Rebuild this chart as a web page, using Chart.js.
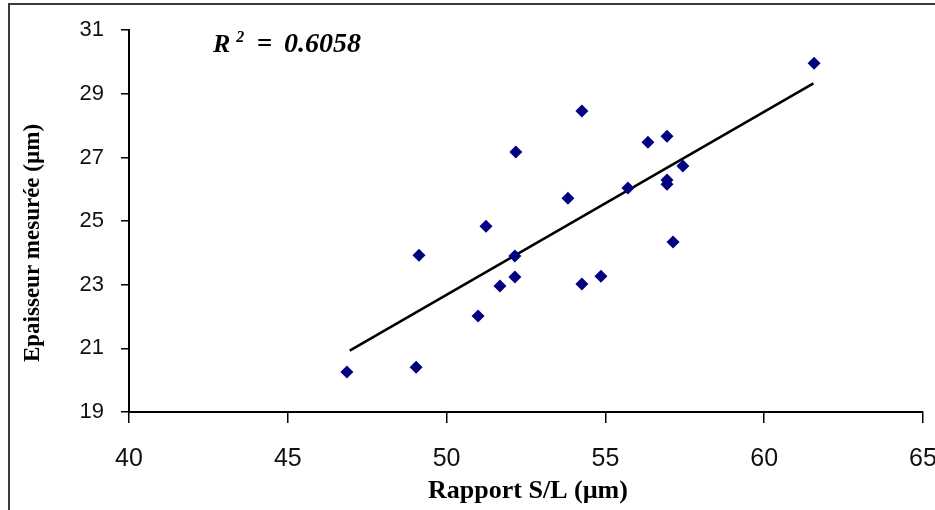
<!DOCTYPE html>
<html>
<head>
<meta charset="utf-8">
<script src="https://cdn.jsdelivr.net/npm/chart.js@4.4.1/dist/chart.umd.min.js"></script>
<style>
    html, body { margin: 0; padding: 0; background: #fff; }
    #wrap { width: 935px; height: 510px; }
</style>
</head>
<body>
<div id="wrap"><canvas id="scatterChart" width="935" height="510"></canvas></div>
<script>
// Rapport S/L vs epaisseur mesuree
const rapportSL = [46.86, 49.04, 49.13, 50.99, 51.24, 51.68, 52.15, 52.15, 52.18, 53.82, 54.26,
    54.26, 54.86, 55.71, 56.34, 56.94, 56.94, 56.94, 57.44, 57.13, 61.57];
const epaisseur = [20.26, 20.41, 23.93, 22.02, 24.84, 22.96, 23.24, 23.90, 27.17, 25.72, 28.46,
    23.02, 23.27, 26.04, 27.48, 27.67, 26.29, 26.16, 26.73, 24.34, 29.96];

// linear trend, two ends
const trendX = [46.95, 61.55];
const trendY = [20.93, 29.33];

const r2Text = '0.6058';
const xTitle = 'Rapport S/L (µm)';
const yTitle = 'Epaisseur mesurée (µm)';

const points = rapportSL.map((x, i) => ({ x: x, y: epaisseur[i] }));
const trend = trendX.map((x, i) => ({ x: x, y: trendY[i] }));

const serif = '"Liberation Serif", "Times New Roman", serif';
const sans = '"Liberation Sans", Arial, sans-serif';

// frame, axis titles and R² label
const decor = {
    id: 'decor',
    beforeDraw(chart) {
        const ctx = chart.ctx;
        ctx.save();
        ctx.fillStyle = '#fff';
        ctx.fillRect(0, 0, chart.width, chart.height);
        ctx.strokeStyle = '#3a3a3a';
        ctx.lineWidth = 2;
        ctx.beginPath();
        ctx.moveTo(9, chart.height);
        ctx.lineTo(9, 4);
        ctx.lineTo(chart.width, 4);
        ctx.stroke();
        ctx.restore();
    },
    afterDraw(chart) {
        const ctx = chart.ctx;
        const area = chart.chartArea;
        ctx.save();
        ctx.fillStyle = '#000';
        ctx.textAlign = 'center';
        ctx.textBaseline = 'middle';

        ctx.font = 'bold 26px ' + serif;
        ctx.fillText(xTitle, (area.left + area.right) / 2 + 2, 491);

        ctx.translate(33, 243);
        ctx.rotate(-Math.PI / 2);
        ctx.font = 'bold 23px ' + serif;
        ctx.fillText(yTitle, 0, 0);
        ctx.setTransform(1, 0, 0, 1, 0, 0);

        ctx.textAlign = 'left';
        ctx.textBaseline = 'alphabetic';
        ctx.font = 'italic bold 26px ' + serif;
        ctx.fillText('R', 213, 52);
        const rw = ctx.measureText('R').width;
        ctx.font = 'italic bold 16px ' + serif;
        ctx.fillText('2', 213 + rw + 6, 42);
        ctx.font = 'bold 27px ' + serif;
        ctx.fillText('=', 257, 52);
        ctx.font = 'italic bold 28px ' + serif;
        ctx.fillText(r2Text, 284, 52);
        ctx.restore();
    }
};

new Chart(
    document.getElementById('scatterChart'),
    {
        type: 'scatter',
        data: {
            datasets: [
                {
                    data: points,
                    pointStyle: 'rectRot',
                    pointRadius: 6.5,
                    pointHoverRadius: 6.5,
                    backgroundColor: '#000080',
                    borderColor: '#000080',
                    borderWidth: 0,
                },
                {
                    type: 'line',
                    data: trend,
                    borderColor: '#000',
                    borderWidth: 2.5,
                    pointRadius: 0,
                    fill: false,
                }
            ]
        },
        options: {
            responsive: false,
            animation: false,
            layout: { padding: { top: 30, right: 12, left: 0, bottom: 0 } },
            plugins: {
                legend: { display: false },
                tooltip: { enabled: false },
            },
            scales: {
                x: {
                    type: 'linear',
                    min: 40,
                    max: 65,
                    ticks: { stepSize: 5, color: '#111', font: { family: sans, size: 25 }, padding: 21 },
                    grid: { drawOnChartArea: false, drawTicks: true, tickLength: 11, color: '#000', lineWidth: 1.5 },
                    border: { color: '#000', width: 2 },
                    afterFit(scale) {
                        scale.height = 98;
                        scale.paddingRight = 0;
                    },
                },
                y: {
                    min: 19,
                    max: 31,
                    ticks: { stepSize: 2, color: '#111', font: { family: sans, size: 22 }, padding: 17 },
                    grid: { drawOnChartArea: false, drawTicks: true, tickLength: 8, color: '#000', lineWidth: 1.5 },
                    border: { color: '#000', width: 2 },
                    afterFit(scale) {
                        scale.width = 129;
                    },
                }
            }
        },
        plugins: [decor],
    }
)
</script>
</body>
</html>
